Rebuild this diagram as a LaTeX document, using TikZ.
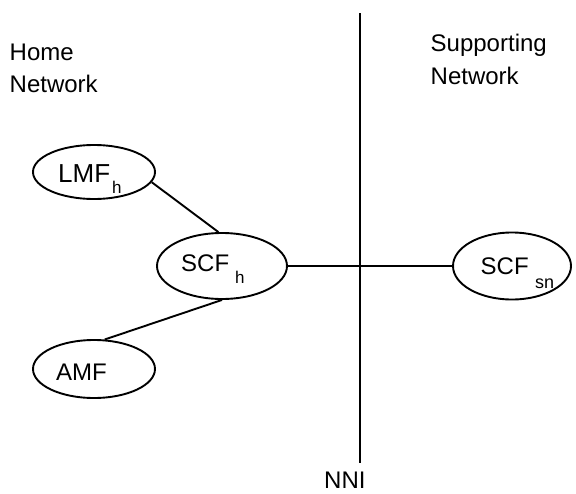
\documentclass[tikz,border=0pt]{standalone}
\usepackage{fontspec}
\setmainfont{Liberation Sans}
\usetikzlibrary{shapes.geometric}
\begin{document}
\begin{tikzpicture}[x=1pt,y=-1pt,
  ent/.style={draw, ellipse, line width=1.9pt, inner sep=0pt},
  lbl/.style={inner sep=0pt, anchor=base west, font=\fontsize{24}{28}\selectfont},
  biglbl/.style={inner sep=0pt, anchor=base west, font=\fontsize{26}{30}\selectfont},
  sublbl/.style={inner sep=0pt, anchor=base west, font=\fontsize{17}{20}\selectfont},
  conn/.style={line width=1.9pt}]
\useasboundingbox (0,0) rectangle (576,493);
% entities
\node[ent, minimum width=122pt, minimum height=54pt] (lmf) at (94,172) {};
\node[ent, minimum width=130pt, minimum height=66pt] (scfh) at (222,266) {};
\node[ent, minimum width=118pt, minimum height=67pt] (scfsn) at (512,266) {};
\node[ent, minimum width=122pt, minimum height=58pt] (amf) at (94,369) {};
% texts in entities
\node[biglbl] (tlmf) at (58,182.7) {LMF};
\node[sublbl] (tlmfh) at (112,193.3) {h};
\node[lbl] (tscfh) at (181,271.7) {SCF};
\node[sublbl] (tscfhh) at (235,283.3) {h};
\node[lbl] (tscfsn) at (480.5,274.3) {SCF};
\node[sublbl, font=\fontsize{18}{20}\selectfont] (tscfsnsn) at (535,288.3) {sn};
\node[lbl] (tamf) at (56,380) {AMF};
% region labels
\node[lbl] (home1) at (9.5,60) {Home};
\node[lbl] (home2) at (9.5,92.7) {Network};
\node[lbl] (sup1) at (430.5,51.7) {Supporting};
\node[lbl] (sup2) at (430.5,84.3) {Network};
% NNI line
\coordinate (nnitop) at (360,13);
\coordinate (nnibot) at (360,463);
\draw[conn] (nnitop) -- (nnibot);
\node[lbl] (nni) at (324,488) {NNI};
% connectors
\draw[conn] (lmf.-10) -- (scfh.96);
\draw[conn] (amf.70) -- (scfh.south);
\draw[conn] (scfh.east) -- (scfsn.west);
\end{tikzpicture}
\end{document}
